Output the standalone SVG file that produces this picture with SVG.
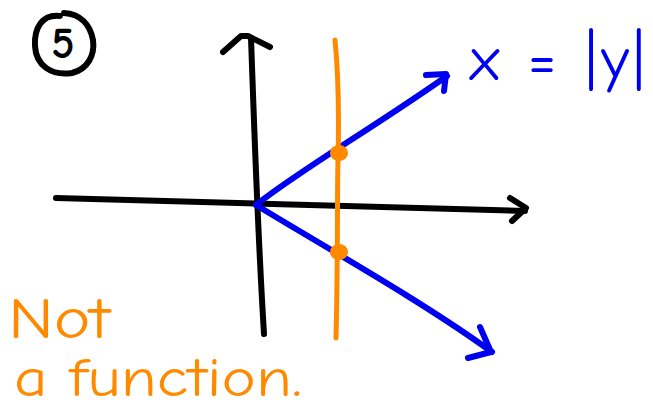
<svg xmlns="http://www.w3.org/2000/svg" width="653" height="409" viewBox="0 0 653 409">
<style>
.k{fill:none;stroke:#000;stroke-width:6;stroke-linecap:round;stroke-linejoin:round}
.b{fill:none;stroke:#0000f0;stroke-width:6;stroke-linecap:round;stroke-linejoin:round}
.o{fill:none;stroke:#ff8a00;stroke-width:5;stroke-linecap:round;stroke-linejoin:round}
.t{font-family:"Comic Neue","Liberation Sans",sans-serif}
</style>
<rect width="653" height="409" fill="#fff"/>
<g id="label5">
<path class="k" d="M60 16 C42 14 34 28 35 46 C36 66 52 76 72 73 C88 69 95 55 93 40 C90 24 80 14 64 13"/>
<text class="t" x="63" y="58" font-size="44" font-weight="bold" text-anchor="middle" fill="#000">5</text>
</g>
<g id="axes">
<path class="k" d="M251 38 C254 120 257 220 264 334"/>
<path class="k" d="M223 52 L241 36 L248 36 L270 47"/>
<path class="k" d="M56 198 C160 200 300 206 525 211"/>
<path class="k" d="M510 198 L526 208 L512 221"/>
</g>
<g id="graph">
<path class="b" d="M256 205 C300 170 370 130 447 76"/>
<path class="b" d="M426 75 L446 74 L444 91"/>
<path class="b" d="M256 205 C330 250 420 300 492 352"/>
<path class="b" d="M480 327 L491 352 L468 358"/>
</g>
<g id="orange-line">
<path class="o" d="M335 40 C339 80 339 120 338 160 C337 200 338 260 336 338"/>
<ellipse cx="339" cy="153" rx="9" ry="8" fill="#ff8a00"/>
<ellipse cx="339" cy="252" rx="9" ry="8" fill="#ff8a00"/>
</g>
<g id="equation">
<text class="t" x="470" y="80" font-size="62" textLength="175" lengthAdjust="spacing" fill="#0000f0">x = |y|</text>
</g>
<g id="note">
<text class="t" x="8" y="338" font-size="58" textLength="102" lengthAdjust="spacingAndGlyphs" fill="#ff8a00">Not</text>
<text class="t" x="14" y="396" font-size="54" textLength="288" lengthAdjust="spacingAndGlyphs" fill="#ff8a00">a function.</text>
</g>
</svg>
